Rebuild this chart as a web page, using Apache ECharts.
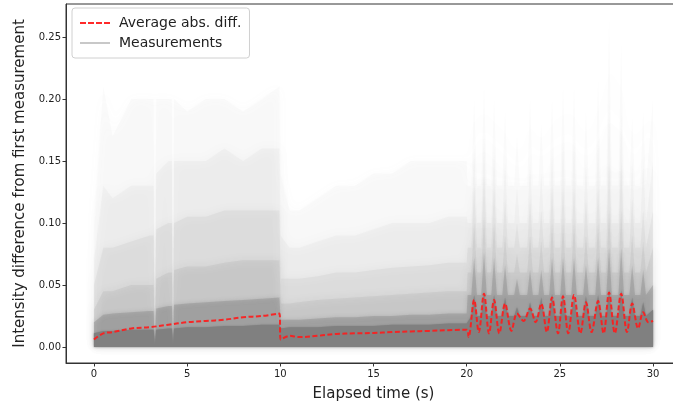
<!DOCTYPE html>
<html>
<head>
<meta charset="utf-8">
<script src="https://cdn.jsdelivr.net/npm/echarts@6/dist/echarts.min.js"></script>
<style>
  html, body { margin: 0; padding: 0; background: #fff; }
  #chart { width: 673px; height: 402px; }
</style>
</head>
<body>
<div id="chart"></div>
<script>
// average abs. diff (red dashed): times (s) and values
var avgTimes = [0, 0.5, 1, 2, 3, 4, 5, 6, 7, 8, 9, 9.95, 10.02, 10.5, 11, 12, 13, 14, 15, 16, 17, 18, 19, 20,
  20.1, 20.4, 20.65, 20.93, 21.2, 21.47, 21.75, 22.06, 22.4, 22.7,
  23.05, 23.4, 23.7, 24.0, 24.3, 24.58, 24.9, 25.17, 25.45, 25.76,
  26.1, 26.4, 26.7, 27.05, 27.35, 27.64, 27.95, 28.29, 28.6, 28.88,
  29.2, 29.47, 29.75, 30];
var avgDiff = [0.006, 0.011, 0.012, 0.015, 0.016, 0.018, 0.020, 0.021, 0.022, 0.024, 0.025, 0.027, 0.006,
  0.009, 0.008, 0.009, 0.0105, 0.011, 0.0113, 0.012, 0.0125, 0.013, 0.0135, 0.014,
  0.008, 0.038, 0.012, 0.043, 0.011, 0.038, 0.011, 0.035, 0.013, 0.027,
  0.021, 0.031, 0.020, 0.035, 0.012, 0.040, 0.011, 0.041, 0.011, 0.042,
  0.011, 0.036, 0.012, 0.037, 0.011, 0.044, 0.011, 0.043, 0.012, 0.035,
  0.015, 0.028, 0.020, 0.021];

// grey cloud of measurements, read as shades: times (s) and upper edge of each shade
var bandTimes = [0, 0.5, 1, 2, 3, 3.2, 3.27, 3.34, 4, 4.18, 4.24, 4.3, 5, 6, 7, 8, 9, 9.95, 10.02,
  10.5, 11, 12, 13, 14, 15, 16, 17, 18, 19, 20,
  20.05,
  20.25, 20.4, 20.55, 20.78, 20.93, 21.08, 21.32, 21.47, 21.62, 21.91, 22.06, 22.21,
  22.55, 22.7, 22.85, 23.25, 23.4, 23.55, 23.85, 24.0, 24.15, 24.43, 24.58, 24.73,
  25.02, 25.17, 25.32, 25.61, 25.76, 25.91, 26.25, 26.4, 26.55, 26.9, 27.05, 27.2,
  27.49, 27.64, 27.79, 28.14, 28.29, 28.44, 28.73, 28.88, 29.03, 29.32, 29.47, 29.62,
  30];

var bandFaint = [0.10, 0.21, 0.17, 0.20, 0.20, 0.20, 0.01, 0.20, 0.20, 0.20, 0.01, 0.20, 0.19, 0.20, 0.20, 0.19, 0.20, 0.21, 0.14,
  0.11, 0.11, 0.12, 0.13, 0.13, 0.14, 0.14, 0.15, 0.15, 0.15, 0.15,
  0.13,
  0.13, 0.20, 0.13, 0.13, 0.21, 0.13, 0.13, 0.20, 0.13, 0.13, 0.19, 0.13,
  0.13, 0.17, 0.13, 0.13, 0.20, 0.13, 0.13, 0.18, 0.13, 0.13, 0.20, 0.13,
  0.13, 0.21, 0.13, 0.13, 0.21, 0.13, 0.13, 0.19, 0.13, 0.13, 0.215, 0.13,
  0.13, 0.265, 0.13, 0.13, 0.245, 0.13, 0.13, 0.185, 0.13, 0.13, 0.19, 0.13,
  0.20];

var bandHaze = [0.07, 0.13, 0.12, 0.13, 0.13, 0.13, 0.006, 0.14, 0.15, 0.15, 0.006, 0.15, 0.15, 0.15, 0.16, 0.15, 0.16, 0.16, 0.09,
  0.08, 0.08, 0.085, 0.09, 0.09, 0.095, 0.10, 0.10, 0.10, 0.105, 0.105,
  0.10,
  0.10, 0.16, 0.10, 0.10, 0.17, 0.10, 0.10, 0.16, 0.10, 0.10, 0.15, 0.10,
  0.10, 0.13, 0.10, 0.10, 0.15, 0.10, 0.10, 0.14, 0.10, 0.10, 0.16, 0.10,
  0.10, 0.17, 0.10, 0.10, 0.17, 0.10, 0.10, 0.15, 0.10, 0.10, 0.17, 0.10,
  0.10, 0.20, 0.10, 0.10, 0.19, 0.10, 0.10, 0.15, 0.10, 0.10, 0.15, 0.10,
  0.15];

var bandLight = [0.05, 0.08, 0.08, 0.085, 0.09, 0.09, 0.004, 0.095, 0.10, 0.10, 0.004, 0.10, 0.105, 0.105, 0.11, 0.11, 0.11, 0.11, 0.055,
  0.055, 0.055, 0.057, 0.06, 0.06, 0.062, 0.064, 0.065, 0.066, 0.068, 0.068,
  0.08,
  0.08, 0.13, 0.08, 0.08, 0.14, 0.08, 0.08, 0.13, 0.08, 0.08, 0.12, 0.08,
  0.08, 0.10, 0.08, 0.08, 0.12, 0.08, 0.08, 0.11, 0.08, 0.08, 0.13, 0.08,
  0.08, 0.13, 0.08, 0.08, 0.13, 0.08, 0.08, 0.12, 0.08, 0.08, 0.13, 0.08,
  0.08, 0.15, 0.08, 0.08, 0.15, 0.08, 0.08, 0.12, 0.08, 0.08, 0.11, 0.08,
  0.11];

var bandMid = [0.03, 0.045, 0.045, 0.05, 0.05, 0.05, 0.003, 0.055, 0.06, 0.06, 0.003, 0.062, 0.065, 0.065, 0.068, 0.07, 0.07, 0.07, 0.035,
  0.035, 0.036, 0.038, 0.039, 0.04, 0.041, 0.042, 0.043, 0.044, 0.045, 0.045,
  0.06,
  0.06, 0.10, 0.06, 0.06, 0.105, 0.06, 0.06, 0.10, 0.06, 0.06, 0.09, 0.06,
  0.06, 0.075, 0.06, 0.06, 0.09, 0.06, 0.06, 0.085, 0.06, 0.06, 0.10, 0.06,
  0.06, 0.10, 0.06, 0.06, 0.10, 0.06, 0.06, 0.09, 0.06, 0.06, 0.10, 0.06,
  0.06, 0.11, 0.06, 0.06, 0.11, 0.06, 0.06, 0.09, 0.06, 0.06, 0.085, 0.06,
  0.08];

var bandDense = [0.02, 0.026, 0.027, 0.028, 0.029, 0.029, 0.002, 0.031, 0.033, 0.033, 0.002, 0.034, 0.035, 0.036, 0.037, 0.038, 0.039, 0.04, 0.022,
  0.022, 0.022, 0.023, 0.024, 0.024, 0.025, 0.025, 0.026, 0.026, 0.027, 0.027,
  0.042,
  0.042, 0.072, 0.042, 0.042, 0.076, 0.042, 0.042, 0.072, 0.042, 0.042, 0.066, 0.042,
  0.042, 0.055, 0.042, 0.042, 0.062, 0.042, 0.042, 0.062, 0.042, 0.042, 0.072, 0.042,
  0.042, 0.072, 0.042, 0.042, 0.072, 0.042, 0.042, 0.066, 0.042, 0.042, 0.072, 0.042,
  0.042, 0.08, 0.042, 0.042, 0.08, 0.042, 0.042, 0.066, 0.042, 0.042, 0.062, 0.042,
  0.05];

var bandCore = [0.011, 0.013, 0.013, 0.014, 0.014, 0.014, 0.002, 0.014, 0.015, 0.015, 0.002, 0.015, 0.016, 0.016, 0.017, 0.017, 0.018, 0.018, 0.015,
  0.016, 0.016, 0.016, 0.017, 0.017, 0.017, 0.018, 0.018, 0.018, 0.019, 0.019,
  0.02,
  0.025, 0.042, 0.025, 0.025, 0.044, 0.025, 0.025, 0.042, 0.025, 0.025, 0.040, 0.025,
  0.025, 0.032, 0.025, 0.025, 0.036, 0.025, 0.025, 0.040, 0.025, 0.025, 0.043, 0.025,
  0.025, 0.043, 0.025, 0.025, 0.040, 0.025, 0.025, 0.041, 0.025, 0.025, 0.042, 0.025,
  0.025, 0.046, 0.025, 0.025, 0.046, 0.025, 0.025, 0.040, 0.025, 0.025, 0.036, 0.025,
  0.03];

var xTicks = [0, 5, 10, 15, 20, 25, 30];
var yTicks = [0, 0.05, 0.10, 0.15, 0.20, 0.25];

function pairs(ts, vals) {
  return ts.map(function (t, i) { return [t, vals[i]]; });
}

// one shade of the grey cloud, edges softened with a blur
function band(vals, opacity, blur) {
  return {
    name: 'Measurements',
    type: 'line',
    data: pairs(bandTimes, vals),
    symbol: 'none',
    silent: true,
    lineStyle: { width: 0 },
    areaStyle: {
      color: '#808080',
      opacity: opacity,
      shadowBlur: blur,
      shadowColor: 'rgba(128,128,128,0.9)'
    },
    itemStyle: { color: '#c8c8c8' },
    emphasis: { disabled: true },
    z: 2
  };
}

var chart = echarts.init(document.getElementById('chart'));

var font = 'DejaVu Sans';
option = {
  animation: false,
  backgroundColor: '#ffffff',
  textStyle: { fontFamily: font },
  grid: {
    left: 66,
    top: 4,
    bottom: 39,
    right: -8,
    outerBoundsMode: 'none',
    containLabel: false,
    show: true,
    borderColor: '#333',
    borderWidth: 1
  },
  legend: {
    left: 72,
    top: 8,
    orient: 'vertical',
    selectedMode: false,
    itemWidth: 30,
    itemHeight: 2,
    itemGap: 4,
    padding: [7, 8, 7, 8],
    backgroundColor: 'rgba(255,255,255,0.8)',
    borderColor: '#d0d0d0',
    borderWidth: 1,
    borderRadius: 3,
    textStyle: { fontFamily: font, fontSize: 14, color: '#222', lineHeight: 16, padding: [0, 0, 0, 4] },
    data: [
      {
        name: 'Average abs. diff.',
        icon: 'path://M0,0h6v2h-6zM8,0h6v2h-6zM16,0h6v2h-6zM24,0h6v2h-6z',
        itemStyle: { color: '#ff2a2a' }
      },
      {
        name: 'Measurements',
        icon: 'rect',
        itemStyle: { color: '#c8c8c8' }
      }
    ]
  },
  xAxis: {
    type: 'value',
    min: -1.5,
    max: 31.5,
    name: 'Elapsed time (s)',
    nameLocation: 'middle',
    nameGap: 24,
    nameTextStyle: { fontFamily: font, fontSize: 15, color: '#222' },
    axisLine: { onZero: false, lineStyle: { color: '#333', width: 1 } },
    axisTick: { length: 3.5, lineStyle: { color: '#333' }, customValues: xTicks },
    axisLabel: { fontFamily: font, fontSize: 10, color: '#222', margin: 6, customValues: xTicks },
    splitLine: { show: false }
  },
  yAxis: {
    type: 'value',
    min: -0.0129,
    max: 0.2766,
    name: 'Intensity difference from first measurement',
    nameLocation: 'middle',
    nameGap: 38,
    nameTextStyle: { fontFamily: font, fontSize: 15, color: '#222' },
    axisLine: { show: true, onZero: false, lineStyle: { color: '#333', width: 1 } },
    axisTick: { show: true, length: 3.5, lineStyle: { color: '#333' }, customValues: yTicks },
    axisLabel: {
      fontFamily: font, fontSize: 10, color: '#222', margin: 5, customValues: yTicks,
      formatter: function (v) { return v.toFixed(2); }
    },
    splitLine: { show: false }
  },
  series: [
    band(bandFaint, 0.03, 12),
    band(bandHaze, 0.05, 12),
    band(bandLight, 0.08, 10),
    band(bandMid, 0.12, 8),
    band(bandDense, 0.35, 4),
    band(bandCore, 1, 2),
    {
      name: 'Average abs. diff.',
      type: 'line',
      data: pairs(avgTimes, avgDiff),
      symbol: 'none',
      smooth: 0.35,
      silent: true,
      itemStyle: { color: '#ff2a2a' },
      lineStyle: { color: '#ff1a1a', width: 2, type: [5, 2.5], opacity: 0.9 },
      z: 5
    }
  ]
};

chart.setOption(option);
</script>
</body>
</html>
